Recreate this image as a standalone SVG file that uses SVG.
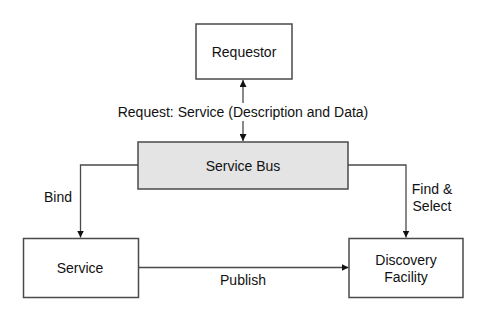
<svg xmlns="http://www.w3.org/2000/svg" width="489" height="326" viewBox="0 0 489 326">
  <style>
    .box { fill: #ffffff; stroke: #4a4a4a; stroke-width: 1.5; }
    .bus { fill: #e4e4e4; stroke: #4a4a4a; stroke-width: 1.5; }
    .edge { fill: none; stroke: #4a4a4a; stroke-width: 1.3; }
    text { font-family: "Liberation Sans", Arial, sans-serif; font-size: 14px; fill: #111111; text-anchor: middle; }
  </style>
  <defs>
    <marker id="arrow" viewBox="0 0 10 10" refX="10" refY="5" markerWidth="7" markerHeight="7" markerUnits="userSpaceOnUse" orient="auto-start-reverse">
      <path d="M0,0 L10,5 L0,10 z" fill="#111111"/>
    </marker>
  </defs>
  <rect width="489" height="326" fill="#ffffff"/>

  <g id="connectors">
    <line class="edge" x1="243" y1="80" x2="243" y2="141" marker-start="url(#arrow)" marker-end="url(#arrow)"/>
    <polyline class="edge" points="138,165 80.5,165 80.5,237.5" marker-end="url(#arrow)"/>
    <polyline class="edge" points="348,165 406,165 406,237.5" marker-end="url(#arrow)"/>
    <line class="edge" x1="138" y1="267.5" x2="348.5" y2="267.5" marker-end="url(#arrow)"/>
  </g>

  <g id="labels">
    <rect x="114" y="103" width="258" height="18" fill="#ffffff"/>
    <text x="243" y="117">Request: Service (Description and Data)</text>
    <text x="58" y="202">Bind</text>
    <text x="432" y="194">Find &amp;</text>
    <text x="432" y="211">Select</text>
    <text x="243" y="285">Publish</text>
  </g>

  <g id="requestor">
    <rect class="box" x="196" y="24" width="96" height="55"/>
    <text x="244" y="57">Requestor</text>
  </g>

  <g id="service-bus">
    <rect class="bus" x="138" y="142" width="210" height="47"/>
    <text x="243" y="171">Service Bus</text>
  </g>

  <g id="service">
    <rect class="box" x="23.5" y="238.5" width="115" height="59"/>
    <text x="80" y="273">Service</text>
  </g>

  <g id="discovery-facility">
    <rect class="box" x="349" y="238.5" width="114" height="59"/>
    <text x="406" y="265">Discovery</text>
    <text x="406" y="282">Facility</text>
  </g>
</svg>
